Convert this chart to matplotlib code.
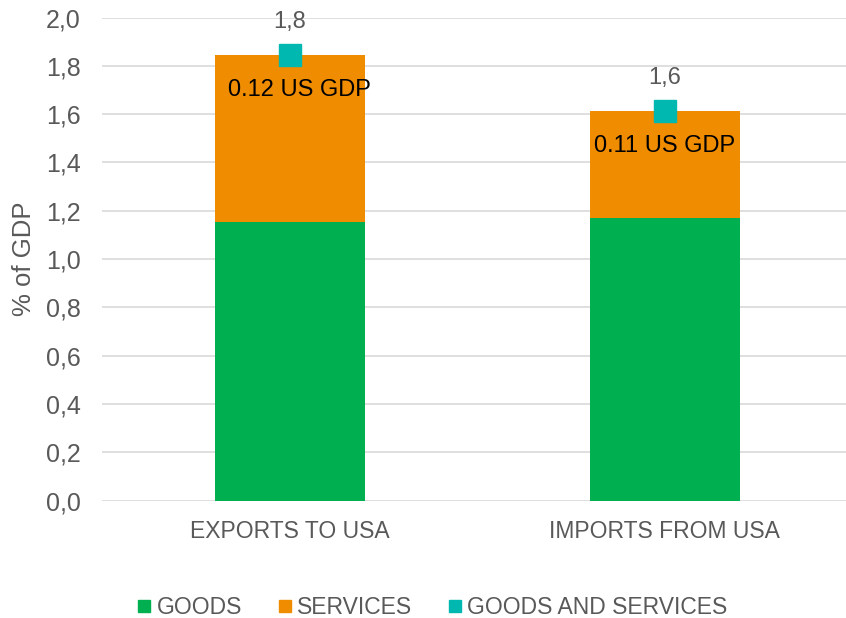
import numpy as np
import matplotlib.pyplot as plt
from matplotlib.lines import Line2D

plt.rcParams['font.family'] = ['Liberation Sans', 'DejaVu Sans']

categories = ['EXPORTS TO USA', 'IMPORTS FROM USA']
goods = [1.155, 1.171]
services = [0.688, 0.442]
value_labels = ['1,8', '1,6']
us_gdp_labels = ['0.12 US GDP', '0.11 US GDP']

GREEN = '#00AF50'
ORANGE = '#F08C00'
TEAL = '#00B8B0'
TXT = '#595959'

total = np.array(goods) + np.array(services)
x = np.arange(len(categories))

fig = plt.figure(figsize=(8.46, 6.18), dpi=100)
ax = fig.add_axes([0.1206, 0.190, 0.8865, 0.7816])

ax.bar(x, goods, width=0.4, color=GREEN, zorder=2)
ax.bar(x, services, width=0.4, bottom=goods, color=ORANGE, zorder=2)
ax.plot(x, total, linestyle='none', marker='s', markersize=16.5,
        color=TEAL, zorder=3)

for i in range(len(x)):
    ax.annotate(value_labels[i], (x[i], total[i]), xytext=(0, 24),
                textcoords='offset points', ha='center', va='center',
                fontsize=17, color=TXT)
    dx = 7 if i == 0 else 0
    ax.annotate(us_gdp_labels[i], (x[i], total[i]), xytext=(dx, -25),
                textcoords='offset points', ha='center', va='center',
                fontsize=17, color='black', zorder=4)

ax.set_xlim(-0.5, 1.5)
ax.set_ylim(0, 2.0)
yt = np.arange(0, 2.01, 0.2)
ax.set_yticks(yt)
ax.set_yticklabels([f'{v:.1f}'.replace('.', ',') for v in yt])
ax.set_xticks(x)
ax.set_xticklabels(categories)
ax.tick_params(axis='both', length=0, labelsize=16.5, labelcolor=TXT)
ax.tick_params(axis='y', pad=15.5, labelsize=18)
ax.tick_params(axis='x', pad=14)
ax.grid(axis='y', color='#D9D9D9', linewidth=1.2, zorder=0)
for s in ax.spines.values():
    s.set_visible(False)
ax.set_ylabel('% of GDP', fontsize=18.5, color=TXT, va='center')
ax.yaxis.set_label_coords(-78 / 750, 0.5)

handles = [
    Line2D([], [], linestyle='none', marker='s', markersize=9, color=GREEN),
    Line2D([], [], linestyle='none', marker='s', markersize=9, color=ORANGE),
    Line2D([], [], linestyle='none', marker='s', markersize=9, color=TEAL),
]
fig.legend(handles, ['GOODS', 'SERVICES', 'GOODS AND SERVICES'],
           loc='center', bbox_to_anchor=(432 / 846, 1 - 608 / 618), ncol=3,
           frameon=False, fontsize=16.5, labelcolor=TXT, handlelength=0.7,
           handletextpad=0.2, columnspacing=1.5)

fig.savefig('out.png', dpi=100)
